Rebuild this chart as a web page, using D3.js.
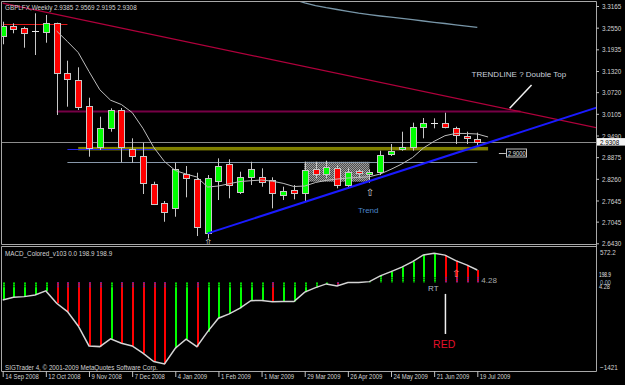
<!DOCTYPE html>
<html>
<head>
<meta charset="utf-8">
<script src="https://cdn.jsdelivr.net/npm/d3@7"></script>
<style>
  body { margin: 0; background: #000; }
  svg { display: block; }
  text { font-family: "Liberation Sans", Arial, sans-serif; }
</style>
</head>
<body>
<div id="wrapper"></div>
<script>
// Weekly GBP candles, 14 Sep 2008 .. 19 Jul 2009
const weeks = ["14 Sep 2008","21 Sep 2008","28 Sep 2008","5 Oct 2008","12 Oct 2008","19 Oct 2008","26 Oct 2008",
  "2 Nov 2008","9 Nov 2008","16 Nov 2008","23 Nov 2008","30 Nov 2008","7 Dec 2008","14 Dec 2008","21 Dec 2008",
  "28 Dec 2008","4 Jan 2009","11 Jan 2009","18 Jan 2009","25 Jan 2009","1 Feb 2009","8 Feb 2009","15 Feb 2009",
  "22 Feb 2009","1 Mar 2009","8 Mar 2009","15 Mar 2009","22 Mar 2009","29 Mar 2009","5 Apr 2009","12 Apr 2009",
  "19 Apr 2009","26 Apr 2009","3 May 2009","10 May 2009","17 May 2009","24 May 2009","31 May 2009","7 Jun 2009",
  "14 Jun 2009","21 Jun 2009","28 Jun 2009","5 Jul 2009","12 Jul 2009","19 Jul 2009"];

const openPrices = [3.2313,3.2597,3.2532,3.2455,3.2418,3.2674,3.1255,3.1065,3.0335,2.9171,2.9693,3.0213,2.9097,2.8907,2.8104,
  2.7565,2.7423,2.8396,2.8254,2.6713,2.8206,2.8672,2.7894,2.8320,2.8320,2.8226,2.7800,2.7942,2.7865,2.8530,2.8388,2.8558,
  2.8084,2.8481,2.8396,2.8462,2.8964,2.9097,2.9171,2.9722,2.9835,2.9852,2.9693,2.9475,2.9385];
const highPrices = [3.2719,3.2674,3.2577,3.2958,3.2910,3.2691,3.1612,3.1425,3.0562,3.0023,3.0261,3.0270,2.9410,2.9285,2.8178,
  2.7630,2.8717,2.8623,2.8433,2.8368,2.8842,2.8814,2.8462,2.8745,2.8558,2.8303,2.8036,2.8084,2.8745,2.8745,2.8774,2.8652,
  2.8575,2.8530,2.8530,2.9058,2.9248,2.9597,2.9853,2.9986,2.9977,3.0136,2.9739,2.9597,2.9569];
const lowPrices = [3.2078,3.2390,3.1981,3.1774,3.2123,3.0071,3.0307,3.0213,2.8887,2.9078,2.9597,2.8728,2.8717,2.7829,2.7516,
  2.7042,2.7184,2.7735,2.6636,2.6571,2.7658,2.7707,2.7829,2.8084,2.8036,2.7423,2.7658,2.7678,2.7610,2.8274,2.8274,2.7990,
  2.7990,2.8274,2.8149,2.8368,2.8907,2.9058,2.9058,2.9410,2.9693,2.9693,2.9248,2.9248,2.9195];
const closePrices = [3.2597,3.2504,3.2390,3.2455,3.2674,3.1255,3.1084,3.0307,2.9143,2.9693,3.0213,2.9154,2.8907,2.8132,2.7545,
  2.7326,2.8530,2.8274,2.6900,2.8291,2.8623,2.8084,2.8303,2.8530,2.8178,2.7865,2.7914,2.7848,2.8510,2.8388,2.8587,2.8084,
  2.8462,2.8416,2.8462,2.8936,2.9049,2.9171,2.9739,2.9852,2.9835,2.9722,2.9503,2.9410,2.9308];

// moving averages (first bar index + values)
const fastMaStart = 5;
const fastMa = [3.2455,3.2157,3.1845,3.1306,3.0789,3.0491,3.0369,3.0142,2.9693,2.9154,2.8751,2.8496,2.8396,2.8311,2.8027,
  2.8056,2.8121,2.8183,2.8206,2.8226,2.8192,2.8132,2.8042,2.8056,2.8155,2.8217,2.8254,2.8283,2.8300,2.8320,2.8396,2.8530,
  2.8680,2.8865,2.9134,2.9325,2.9483,2.9549,2.9546,2.9532,2.9447];
const slowMaStart = 24;
const slowMa = [3.3605,3.3520,3.3435,3.3350,3.3253,3.3176,3.3117,3.3066,3.3015,3.2963,3.2921,3.2881,3.2847,3.2813,3.2779,
  3.2739,3.2702,3.2668,3.2631,3.2594,3.2558];

// MACD main values per bar
const macdValues = [-285,-242,-232,-204,-139,-339,-475,-707,-1031,-1042,-917,-987,-1031,-1149,-1285,-1323,-1068,-922,-1042,
  -799,-582,-512,-420,-297,-295,-313,-312,-311,-160,-86,-26,-58,-5,-4,11,104,173,245,336,444,472,441,352,282,198.9];

const priceTicks = [3.3165,3.2550,3.1935,3.1320,3.0720,3.0105,2.9490,2.8875,2.8260,2.7645,2.7045,2.6430];
const macdTicks = [572.2, -1421];
const lastPrice = 2.9308;

// objects drawn on the chart (bar index / price anchors)
const topLine = { from: 0, to: 6, price: 3.2668 };
const resistLine = { from: 5, to: 48, price: 3.0193 };
const supportBand = { from: 7, to: 45, top: 2.9165, bottom: 2.9066 };
const blueLevel = { from: 6, to: 14, price: 2.9097 };
const greyLevel = { from: 6, to: 44, price: 2.8745 };
const rangeBox = { from: 27.95, to: 34, top: 2.8745, bottom: 2.8178 };
const downTrend = [{ i: 0, price: 3.3244 }, { i: 40, price: 3.0677 }];
const upTrend = [{ i: 19, price: 2.6713 }, { i: 40, price: 2.8791 }];
const priceArrows = [{ i: 19, price: 2.6466 }, { i: 34, price: 2.7885 }];
const macdArrow = { i: 42, value: 147 };

function squeeze(sel, k) {
  sel.each(function () {
    const w = this.getComputedTextLength();
    this.setAttribute("textLength", w * k);
    this.setAttribute("lengthAdjust", "spacingAndGlyphs");
  });
}

function drawChart() {
  const n = weeks.length;
  const dims = { width: 625, height: 385, left: 2, right: 596, mainTop: 2, mainBottom: 244, macdTop: 247, macdBottom: 371 };

  const wrapper = d3.select("#wrapper").append("svg")
    .attr("width", dims.width).attr("height", dims.height)
    .style("background", "#000");

  // Scales
  const xScale = d3.scaleLinear().domain([0, n - 1]).range([2.7, 477.3]);
  const yScale = d3.scaleLinear().domain([2.6430, 3.3165]).range([243.3, 6]);
  const macdScale = d3.scaleLinear().domain([-1421, 572.2]).range([370, 247]);
  const cx = i => Math.round(xScale(i));
  const cy = p => Math.round(yScale(p)) + 0.5;

  const defs = wrapper.append("defs");
  defs.append("clipPath").attr("id", "clipMain").append("rect")
    .attr("x", dims.left).attr("y", dims.mainTop)
    .attr("width", dims.right - dims.left).attr("height", dims.mainBottom - dims.mainTop);
  defs.append("clipPath").attr("id", "clipMacd").append("rect")
    .attr("x", dims.left).attr("y", dims.macdTop)
    .attr("width", dims.right - dims.left).attr("height", dims.macdBottom - dims.macdTop);
  const stipple = defs.append("pattern").attr("id", "stipple")
    .attr("width", 2).attr("height", 2).attr("patternUnits", "userSpaceOnUse");
  stipple.append("rect").attr("width", 2).attr("height", 2).attr("fill", "#4c4c4c");
  stipple.append("rect").attr("width", 1).attr("height", 1).attr("fill", "#9c9c9c");
  stipple.append("rect").attr("x", 1).attr("y", 1).attr("width", 1).attr("height", 1).attr("fill", "#9c9c9c");

  const main = wrapper.append("g").attr("clip-path", "url(#clipMain)");

  // Background objects
  main.append("rect")
    .attr("x", xScale(rangeBox.from)).attr("width", xScale(rangeBox.to) - xScale(rangeBox.from))
    .attr("y", yScale(rangeBox.top)).attr("height", yScale(rangeBox.bottom) - yScale(rangeBox.top))
    .attr("fill", "url(#stipple)");

  main.append("rect")
    .attr("x", xScale(supportBand.from)).attr("width", xScale(supportBand.to) - xScale(supportBand.from))
    .attr("y", yScale(supportBand.top)).attr("height", yScale(supportBand.bottom) - yScale(supportBand.top))
    .attr("fill", "#808000");

  const hLine = (d, color, w) => main.append("line")
    .attr("x1", xScale(d.from)).attr("x2", xScale(d.to))
    .attr("y1", cy(d.price)).attr("y2", cy(d.price))
    .attr("stroke", color).attr("stroke-width", w);

  hLine(topLine, "#e01818", 1);
  hLine(resistLine, "#760046", 2);
  hLine(blueLevel, "#2424e8", 1);
  hLine(greyLevel, "#8898aa", 1);

  main.append("line")
    .attr("x1", dims.left).attr("x2", dims.right)
    .attr("y1", cy(lastPrice)).attr("y2", cy(lastPrice))
    .attr("stroke", "#8c8c8c");

  const priceLine = d3.line().x(d => xScale(d[0])).y(d => yScale(d[1]));

  main.append("path")
    .attr("d", priceLine(slowMa.map((v, k) => [slowMaStart + k, v])))
    .attr("fill", "none").attr("stroke", "#7896a8").attr("stroke-width", 1.3);

  // Draw candles
  const candle = main.selectAll("g.candle").data(d3.range(n)).join("g").attr("class", "candle");

  candle.append("line")
    .attr("x1", i => cx(i) + 0.5).attr("x2", i => cx(i) + 0.5)
    .attr("y1", i => yScale(highPrices[i])).attr("y2", i => yScale(lowPrices[i]))
    .attr("stroke", "#c8c8c8");

  candle.filter(i => openPrices[i] !== closePrices[i]).append("rect")
    .attr("x", i => cx(i) - 2.5).attr("width", 6)
    .attr("y", i => Math.round(yScale(Math.max(openPrices[i], closePrices[i]))) + 0.5)
    .attr("height", i => Math.max(1,
      Math.round(yScale(Math.min(openPrices[i], closePrices[i]))) -
      Math.round(yScale(Math.max(openPrices[i], closePrices[i])))))
    .attr("fill", i => closePrices[i] > openPrices[i] ? "#00ff00" : "#ff0000")
    .attr("stroke", "#c8c8c8");

  candle.filter(i => openPrices[i] === closePrices[i]).append("line")
    .attr("x1", i => cx(i) - 3).attr("x2", i => cx(i) + 4)
    .attr("y1", i => cy(openPrices[i])).attr("y2", i => cy(openPrices[i]))
    .attr("stroke", "#ececec");

  main.append("path")
    .attr("d", priceLine(fastMa.map((v, k) => [fastMaStart + k, v])))
    .attr("fill", "none").attr("stroke", "#bdbdbd").attr("stroke-width", 1);

  // Trendlines, extended to the right edge
  const tEnd = xScale.invert(dims.right + 4);
  const ray = ([a, b]) => {
    const slope = (b.price - a.price) / (b.i - a.i);
    return [[a.i, a.price], [tEnd, a.price + slope * (tEnd - a.i)]];
  };
  main.append("path").attr("d", priceLine(ray(downTrend)))
    .attr("stroke", "#b0003c").attr("stroke-width", 1.3).attr("fill", "none");
  main.append("path").attr("d", priceLine(ray(upTrend)))
    .attr("stroke", "#1a1aff").attr("stroke-width", 2).attr("fill", "none");

  // Arrows and text objects
  main.selectAll("text.arrow").data(priceArrows).join("text").attr("class", "arrow")
    .attr("x", d => xScale(d.i) + 0.5).attr("y", d => yScale(d.price))
    .attr("dy", "0.35em").attr("text-anchor", "middle")
    .style("font-family", "DejaVu Sans").style("font-size", "10px")
    .attr("fill", "#d8d8d8").text("\u21E7");

  main.append("text").attr("x", xScale(32.93)).attr("y", yScale(2.7281))
    .attr("fill", "#4a86cc").style("font-size", "8px").text("Trend");

  main.append("text").attr("x", xScale(43.47)).attr("y", yScale(3.1141))
    .attr("fill", "#c9d1dc").style("font-size", "8px").text("TRENDLINE ? Double Top");

  main.append("line")
    .attr("x1", xScale(49.03)).attr("y1", yScale(3.0923))
    .attr("x2", xScale(47.0)).attr("y2", yScale(3.0261))
    .attr("stroke", "#f0f0f0").attr("stroke-width", 1.5);

  // 2.9000 level label
  main.append("line")
    .attr("x1", xScale(46.0)).attr("x2", xScale(46.65))
    .attr("y1", cy(2.9)).attr("y2", cy(2.9)).attr("stroke", "#c0c0c0");
  main.append("rect")
    .attr("x", Math.round(xScale(46.65)) + 0.5).attr("y", cy(2.9) - 4.5)
    .attr("width", 20).attr("height", 8).attr("fill", "#000").attr("stroke", "#c0c0c0");
  main.append("text")
    .attr("x", Math.round(xScale(46.65)) + 2).attr("y", cy(2.9)).attr("dy", "0.33em")
    .attr("fill", "#e0e0e0").style("font-size", "8px").text("2.9000")
    .call(squeeze, 0.72);

  wrapper.append("text").attr("x", 5).attr("y", 9.5)
    .attr("fill", "#d4d4d4").style("font-size", "8px")
    .text("GBPLFX,Weekly  2.9385 2.9569 2.9195 2.9308")
    .call(squeeze, 0.79);

  // MACD panel
  const macd = wrapper.append("g").attr("clip-path", "url(#clipMacd)");
  const zeroY = macdScale(0);
  const barColor = (d, i) => (i === 0 || d >= macdValues[i - 1]) ? "#00ff00" : "#ff0000";

  macd.selectAll("rect.hist").data(macdValues).join("rect").attr("class", "hist")
    .attr("x", (d, i) => cx(i)).attr("width", 2)
    .attr("y", d => Math.min(macdScale(d), zeroY))
    .attr("height", d => Math.abs(macdScale(d) - zeroY))
    .attr("fill", barColor);

  macd.selectAll("line.dots").data(macdValues).join("line").attr("class", "dots")
    .attr("x1", (d, i) => cx(i) + 1).attr("x2", (d, i) => cx(i) + 1)
    .attr("y1", zeroY)
    .attr("y2", d => zeroY + Math.sign(macdScale(d) - zeroY) * Math.min(6, Math.abs(macdScale(d) - zeroY)))
    .attr("stroke", (d, i) => barColor(d, i) === "#00ff00" ? "#006a00" : "#5a28b0")
    .attr("stroke-width", 2).attr("stroke-dasharray", "1,1");

  macd.append("path")
    .attr("d", d3.line().x((d, i) => xScale(i)).y(d => macdScale(d))(macdValues))
    .attr("fill", "none").attr("stroke", "#d4d4d4").attr("stroke-width", 1.5);

  macd.append("text").attr("x", xScale(macdArrow.i) + 0.5).attr("y", macdScale(macdArrow.value))
    .attr("dy", "0.35em").attr("text-anchor", "middle")
    .style("font-family", "DejaVu Sans").style("font-size", "10px")
    .attr("fill", "#ff8080").text("\u21E7");

  macd.append("text").attr("x", xScale(44) + 4).attr("y", macdScale(-16))
    .attr("fill", "#a8a8a8").style("font-size", "8px").text("4.28");

  macd.append("text").attr("x", xScale(39.44)).attr("y", macdScale(-136))
    .attr("fill", "#b4bcc8").style("font-size", "8px").text("RT");
  macd.append("line")
    .attr("x1", xScale(41) + 0.5).attr("x2", xScale(41) + 0.5)
    .attr("y1", macdScale(-188)).attr("y2", macdScale(-837))
    .attr("stroke", "#f0f0f0").attr("stroke-width", 1.5);
  macd.append("text").attr("x", xScale(39.9)).attr("y", macdScale(-1069))
    .attr("fill", "#e0102a").style("font-size", "10.5px").text("RED");

  wrapper.append("text").attr("x", 5).attr("y", 256)
    .attr("fill", "#d4d4d4").style("font-size", "8px")
    .text("MACD_Colored_v103 0.0 198.9 198.9")
    .call(squeeze, 0.79);

  wrapper.append("text").attr("x", 5).attr("y", 369.5)
    .attr("fill", "#d4d4d4").style("font-size", "8px")
    .text("SIGTrader 4, \u00A9 2001-2009 MetaQuotes Software Corp.")
    .call(squeeze, 0.78);

  // Frames
  const frame = wrapper.append("g").attr("stroke", "#a8a8a8").attr("fill", "none");
  frame.append("path").attr("d",
    `M1.5,${dims.mainBottom + 0.5}V1.5H${dims.right + 0.5}V${dims.macdBottom + 0.5}` +
    `M1.5,${dims.macdTop - 0.5}V${dims.macdBottom + 0.5}H${dims.right + 0.5}` +
    `M1.5,${dims.mainBottom + 0.5}H${dims.right + 0.5}M1.5,${dims.macdTop - 0.5}H${dims.right + 0.5}`);

  // Price axis
  const priceAxis = wrapper.append("g")
    .attr("transform", `translate(${dims.right},0)`)
    .call(d3.axisRight(yScale).tickValues(priceTicks).tickFormat(d3.format(".4f")).tickSize(3).tickPadding(3))
    .attr("font-family", "Liberation Sans, Arial, sans-serif").attr("font-size", 8);
  priceAxis.select(".domain").remove();
  priceAxis.selectAll("line").attr("stroke", "#c0c0c0");
  priceAxis.selectAll("text").attr("fill", "#d4d4d4").call(squeeze, 0.79);

  const lastBox = wrapper.append("g");
  lastBox.append("rect").attr("x", dims.right + 1).attr("y", yScale(lastPrice) - 3.8)
    .attr("width", 28).attr("height", 7.5).attr("fill", "#f4f4f4");
  lastBox.append("text").attr("x", dims.right + 4).attr("y", yScale(lastPrice)).attr("dy", "0.34em")
    .attr("fill", "#000").style("font-size", "8px").text(d3.format(".4f")(lastPrice))
    .call(squeeze, 0.79);

  // MACD axis
  const macdAxis = wrapper.append("g")
    .attr("transform", `translate(${dims.right},0)`)
    .call(d3.axisRight(macdScale).tickValues(macdTicks).tickFormat(d3.format("")).tickSize(0).tickPadding(4))
    .attr("font-family", "Liberation Sans, Arial, sans-serif").attr("font-size", 8);
  macdAxis.select(".domain").remove();
  macdAxis.selectAll("text").attr("fill", "#d4d4d4")
    .attr("dy", d => d > 0 ? "0.9em" : "-0.1em")
    .call(squeeze, 0.79);

  const jumble = wrapper.append("g").style("font-size", "8px");
  jumble.append("text").attr("x", 599).attr("y", macdScale(90)).attr("fill", "#e8e8e8").text("198.9").call(squeeze, 0.6);
  jumble.append("text").attr("x", 600).attr("y", macdScale(-40)).attr("fill", "#9fb4c8").text("0.00").call(squeeze, 0.7);
  jumble.append("text").attr("x", 599).attr("y", macdScale(-110)).attr("fill", "#d8d8d8").text("4.28").call(squeeze, 0.7);

  // Time axis
  const timeAxis = wrapper.append("g")
    .attr("transform", `translate(0,${dims.macdBottom})`)
    .call(d3.axisBottom(xScale).tickValues(d3.range(0, n, 4)).tickFormat(i => weeks[i]).tickSize(6))
    .attr("font-family", "Liberation Sans, Arial, sans-serif").attr("font-size", 8);
  timeAxis.select(".domain").remove();
  timeAxis.selectAll("line").attr("stroke", "#c0c0c0");
  timeAxis.selectAll("text")
    .attr("text-anchor", "start").attr("x", 2).attr("y", 2)
    .attr("fill", "#d4d4d4")
    .call(squeeze, 0.74);
}

drawChart();
</script>
</body>
</html>
